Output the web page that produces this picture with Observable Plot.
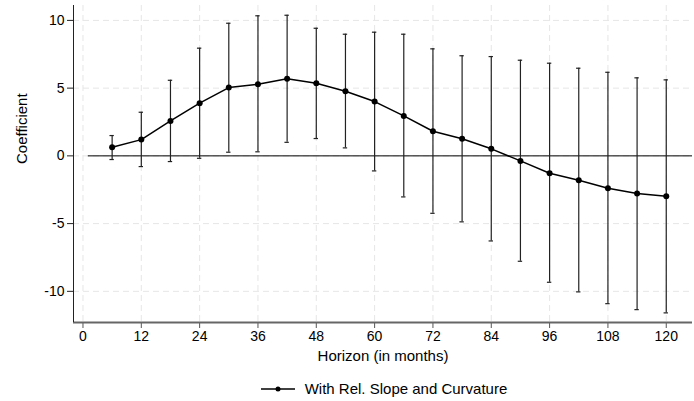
<!DOCTYPE html>
<html>
<head>
<meta charset="utf-8">
<script src="https://cdn.jsdelivr.net/npm/d3@7"></script>
<script src="https://cdn.jsdelivr.net/npm/@observablehq/plot@0.6"></script>
<style>
  body { margin: 0; background: #fff; font-family: "Liberation Sans", Arial, sans-serif; }
  #legend { height: 35px; display: flex; align-items: center; justify-content: center; font-size: 15px; color: #000; padding-left: 74px; padding-top: 10px; box-sizing: border-box; }
  #legend svg { margin-right: 10px; }
</style>
</head>
<body>
<div id="chart"></div>
<div id="legend"></div>
<script>
const horizons = [6, 12, 18, 24, 30, 36, 42, 48, 54, 60, 66, 72, 78, 84, 90, 96, 102, 108, 114, 120];
const coef  = [0.64, 1.20, 2.58, 3.89, 5.04, 5.29, 5.69, 5.36, 4.77, 4.01, 2.95, 1.82, 1.26, 0.52, -0.37, -1.28, -1.80, -2.39, -2.78, -2.98];
const upper = [1.50, 3.22, 5.58, 7.95, 9.79, 10.34, 10.38, 9.42, 8.98, 9.13, 8.98, 7.90, 7.39, 7.33, 7.06, 6.84, 6.47, 6.17, 5.76, 5.61];
const lower = [-0.27, -0.79, -0.42, -0.18, 0.27, 0.30, 1.00, 1.28, 0.59, -1.11, -3.03, -4.24, -4.87, -6.28, -7.78, -9.33, -10.04, -10.91, -11.35, -11.59];
const xTicks = [0, 12, 24, 36, 48, 60, 72, 84, 96, 108, 120];
const yTicks = [-10, -5, 0, 5, 10];
const seriesName = "With Rel. Slope and Curvature";

const data = horizons.map((h, i) => ({h, c: coef[i], lo: lower[i], hi: upper[i]}));

const plot = Plot.plot({
  width: 694,
  height: 366,
  marginLeft: 73,
  marginRight: 2,
  marginTop: 5,
  marginBottom: 44,
  style: {fontFamily: "Liberation Sans, Arial, sans-serif", fontSize: "14px", color: "#000", background: "#fff"},
  x: {domain: [-1.95, 125.4], ticks: xTicks, label: null},
  y: {domain: [-12.3, 11.1], ticks: yTicks, label: null},
  marks: [
    Plot.gridX(xTicks, {stroke: "#e6e6e6", strokeOpacity: 1, strokeDasharray: "6,4", strokeWidth: 1}),
    Plot.gridY(yTicks, {stroke: "#e6e6e6", strokeOpacity: 1, strokeDasharray: "6,4", strokeWidth: 1}),
    Plot.ruleY([0], {x1: 1.1, x2: 125.4, stroke: "#000", strokeWidth: 1}),
    Plot.ruleX(data, {x: "h", y1: "lo", y2: "hi", stroke: "#222", strokeWidth: 1.2}),
    Plot.ruleY(data, {y: "hi", x1: d => d.h - 0.45, x2: d => d.h + 0.45, stroke: "#222", strokeWidth: 1.2}),
    Plot.ruleY(data, {y: "lo", x1: d => d.h - 0.45, x2: d => d.h + 0.45, stroke: "#222", strokeWidth: 1.2}),
    Plot.line(data, {x: "h", y: "c", stroke: "#000", strokeWidth: 1.5}),
    Plot.dot(data, {x: "h", y: "c", r: 3, fill: "#000", stroke: "none"}),
    Plot.axisX({ticks: xTicks, tickSize: 6, tickPadding: 3, stroke: "#555", label: null, fontSize: 14}),
    Plot.axisY({ticks: yTicks, tickSize: 6, tickPadding: 3, stroke: "#222", label: null, fontSize: 14, tickFormat: d => String(d)}),
    Plot.ruleY([-12.3], {stroke: "#666", strokeWidth: 2}),
    Plot.ruleX([-1.95], {stroke: "#222", strokeWidth: 1}),
    Plot.text(["Horizon (in months)"], {frameAnchor: "bottom", dy: 38, fontSize: 15, fill: "#000"}),
    Plot.text(["Coefficient"], {frameAnchor: "left", dx: -51, rotate: -90, fontSize: 15, fill: "#000"})
  ]
});
document.getElementById("chart").appendChild(plot);

const leg = document.getElementById("legend");
const ns = "http://www.w3.org/2000/svg";
const s = document.createElementNS(ns, "svg");
s.setAttribute("width", 34); s.setAttribute("height", 8);
const ln = document.createElementNS(ns, "line");
ln.setAttribute("x1", 0); ln.setAttribute("x2", 34); ln.setAttribute("y1", 4); ln.setAttribute("y2", 4);
ln.setAttribute("stroke", "#000"); ln.setAttribute("stroke-width", 1.5);
const c = document.createElementNS(ns, "circle");
c.setAttribute("cx", 17); c.setAttribute("cy", 4); c.setAttribute("r", 2.5); c.setAttribute("fill", "#000");
s.appendChild(ln); s.appendChild(c);
leg.appendChild(s);
const t = document.createElement("span");
t.textContent = seriesName;
leg.appendChild(t);
</script>
</body>
</html>
